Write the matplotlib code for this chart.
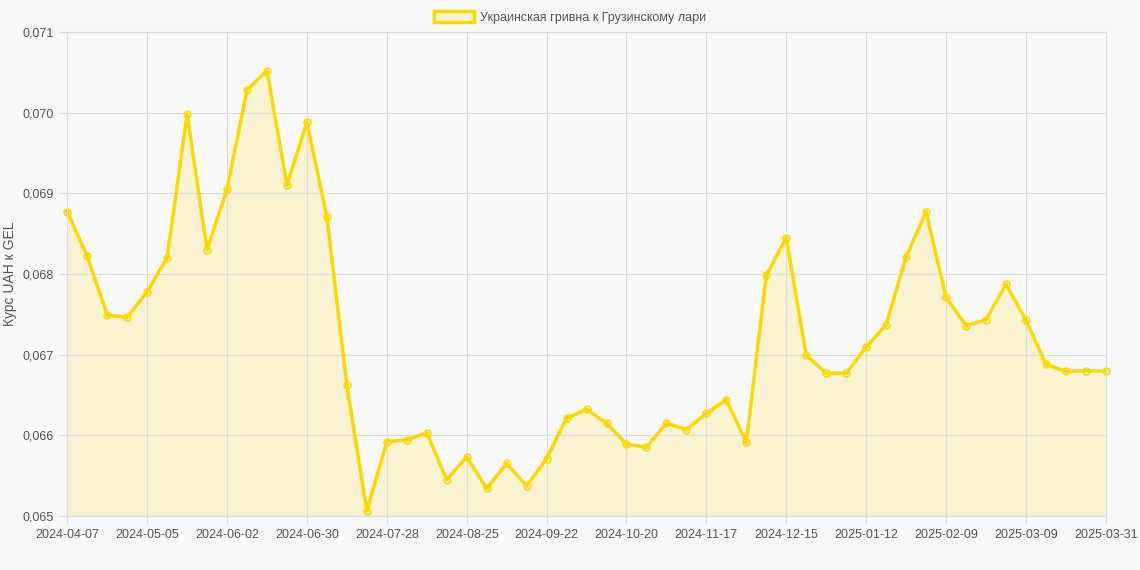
import numpy as np
import pandas as pd
import matplotlib
matplotlib.use("Agg")
import matplotlib.pyplot as plt
from matplotlib.ticker import FuncFormatter
from matplotlib.patches import Patch

plt.rcParams['font.family'] = ['Liberation Sans', 'DejaVu Sans']

# weekly rates, last point is one day after the regular step
dates = [d.strftime("%Y-%m-%d") for d in pd.date_range("2024-04-07", periods=52, freq="7D")] + ["2025-03-31"]
rates = [0.06877, 0.06822, 0.06749, 0.06746, 0.06778, 0.06820, 0.06998, 0.06830,
         0.06905, 0.07028, 0.07052, 0.06910, 0.06988, 0.06871, 0.06662, 0.06506,
         0.06592, 0.06594, 0.06603, 0.06545, 0.06573, 0.06534, 0.06565, 0.06537,
         0.06571, 0.06621, 0.06632, 0.06615, 0.06589, 0.06585, 0.06615, 0.06607,
         0.06627, 0.06644, 0.06591, 0.06798, 0.06845, 0.06699, 0.06677, 0.06677,
         0.06709, 0.06737, 0.06821, 0.06877, 0.06771, 0.06736, 0.06743, 0.06787,
         0.06743, 0.06688, 0.06679, 0.06680, 0.06679]
tick_labels = ["2024-04-07", "2024-05-05", "2024-06-02", "2024-06-30", "2024-07-28",
               "2024-08-25", "2024-09-22", "2024-10-20", "2024-11-17", "2024-12-15",
               "2025-01-12", "2025-02-09", "2025-03-09", "2025-03-31"]

x = np.arange(len(dates))
color = "#FFD700"
fig = plt.figure(figsize=(11.4, 5.7), dpi=100, facecolor="#f9f9f9")
ax = fig.add_axes([0.059, 0.095, 0.911, 0.849])
ax.set_facecolor("#f9f9f9")

ax.fill_between(x, rates, 0.065, color=color, alpha=0.15, linewidth=0)
ax.plot(x, rates, color=color, linewidth=2.5, marker="o", markersize=5,
        markerfacecolor=(1, 0.84, 0, 0.3), markeredgecolor=color, clip_on=False)

ax.set_xlim(0, len(dates) - 1)
ax.set_ylim(0.065, 0.071)
ax.set_xticks([dates.index(t) for t in tick_labels])
ax.set_xticklabels(tick_labels)
ax.yaxis.set_major_formatter(FuncFormatter(lambda v, p: f"{v:.3f}".replace(".", ",")))
ax.tick_params(labelsize=9, colors="#555555", length=6, color="#dddddd")
ax.grid(True, color="#dddddd", linewidth=0.8)
for s in ax.spines.values():
    s.set_color("#dddddd")
ax.set_ylabel("Курс UAH к GEL", fontsize=10, color="#555555")

handle = Patch(facecolor=(1, 0.84, 0, 0.15), edgecolor=color, linewidth=2.5,
               label="Украинская гривна к Грузинскому лари")
leg = fig.legend(handles=[handle], loc="upper center", bbox_to_anchor=(0.5, 1.0), frameon=False,
                 fontsize=9, handlelength=3.2, handleheight=1.0, handletextpad=0.5)
for t in leg.get_texts():
    t.set_color("#555555")

fig.savefig("out.png", dpi=100, facecolor=fig.get_facecolor())
